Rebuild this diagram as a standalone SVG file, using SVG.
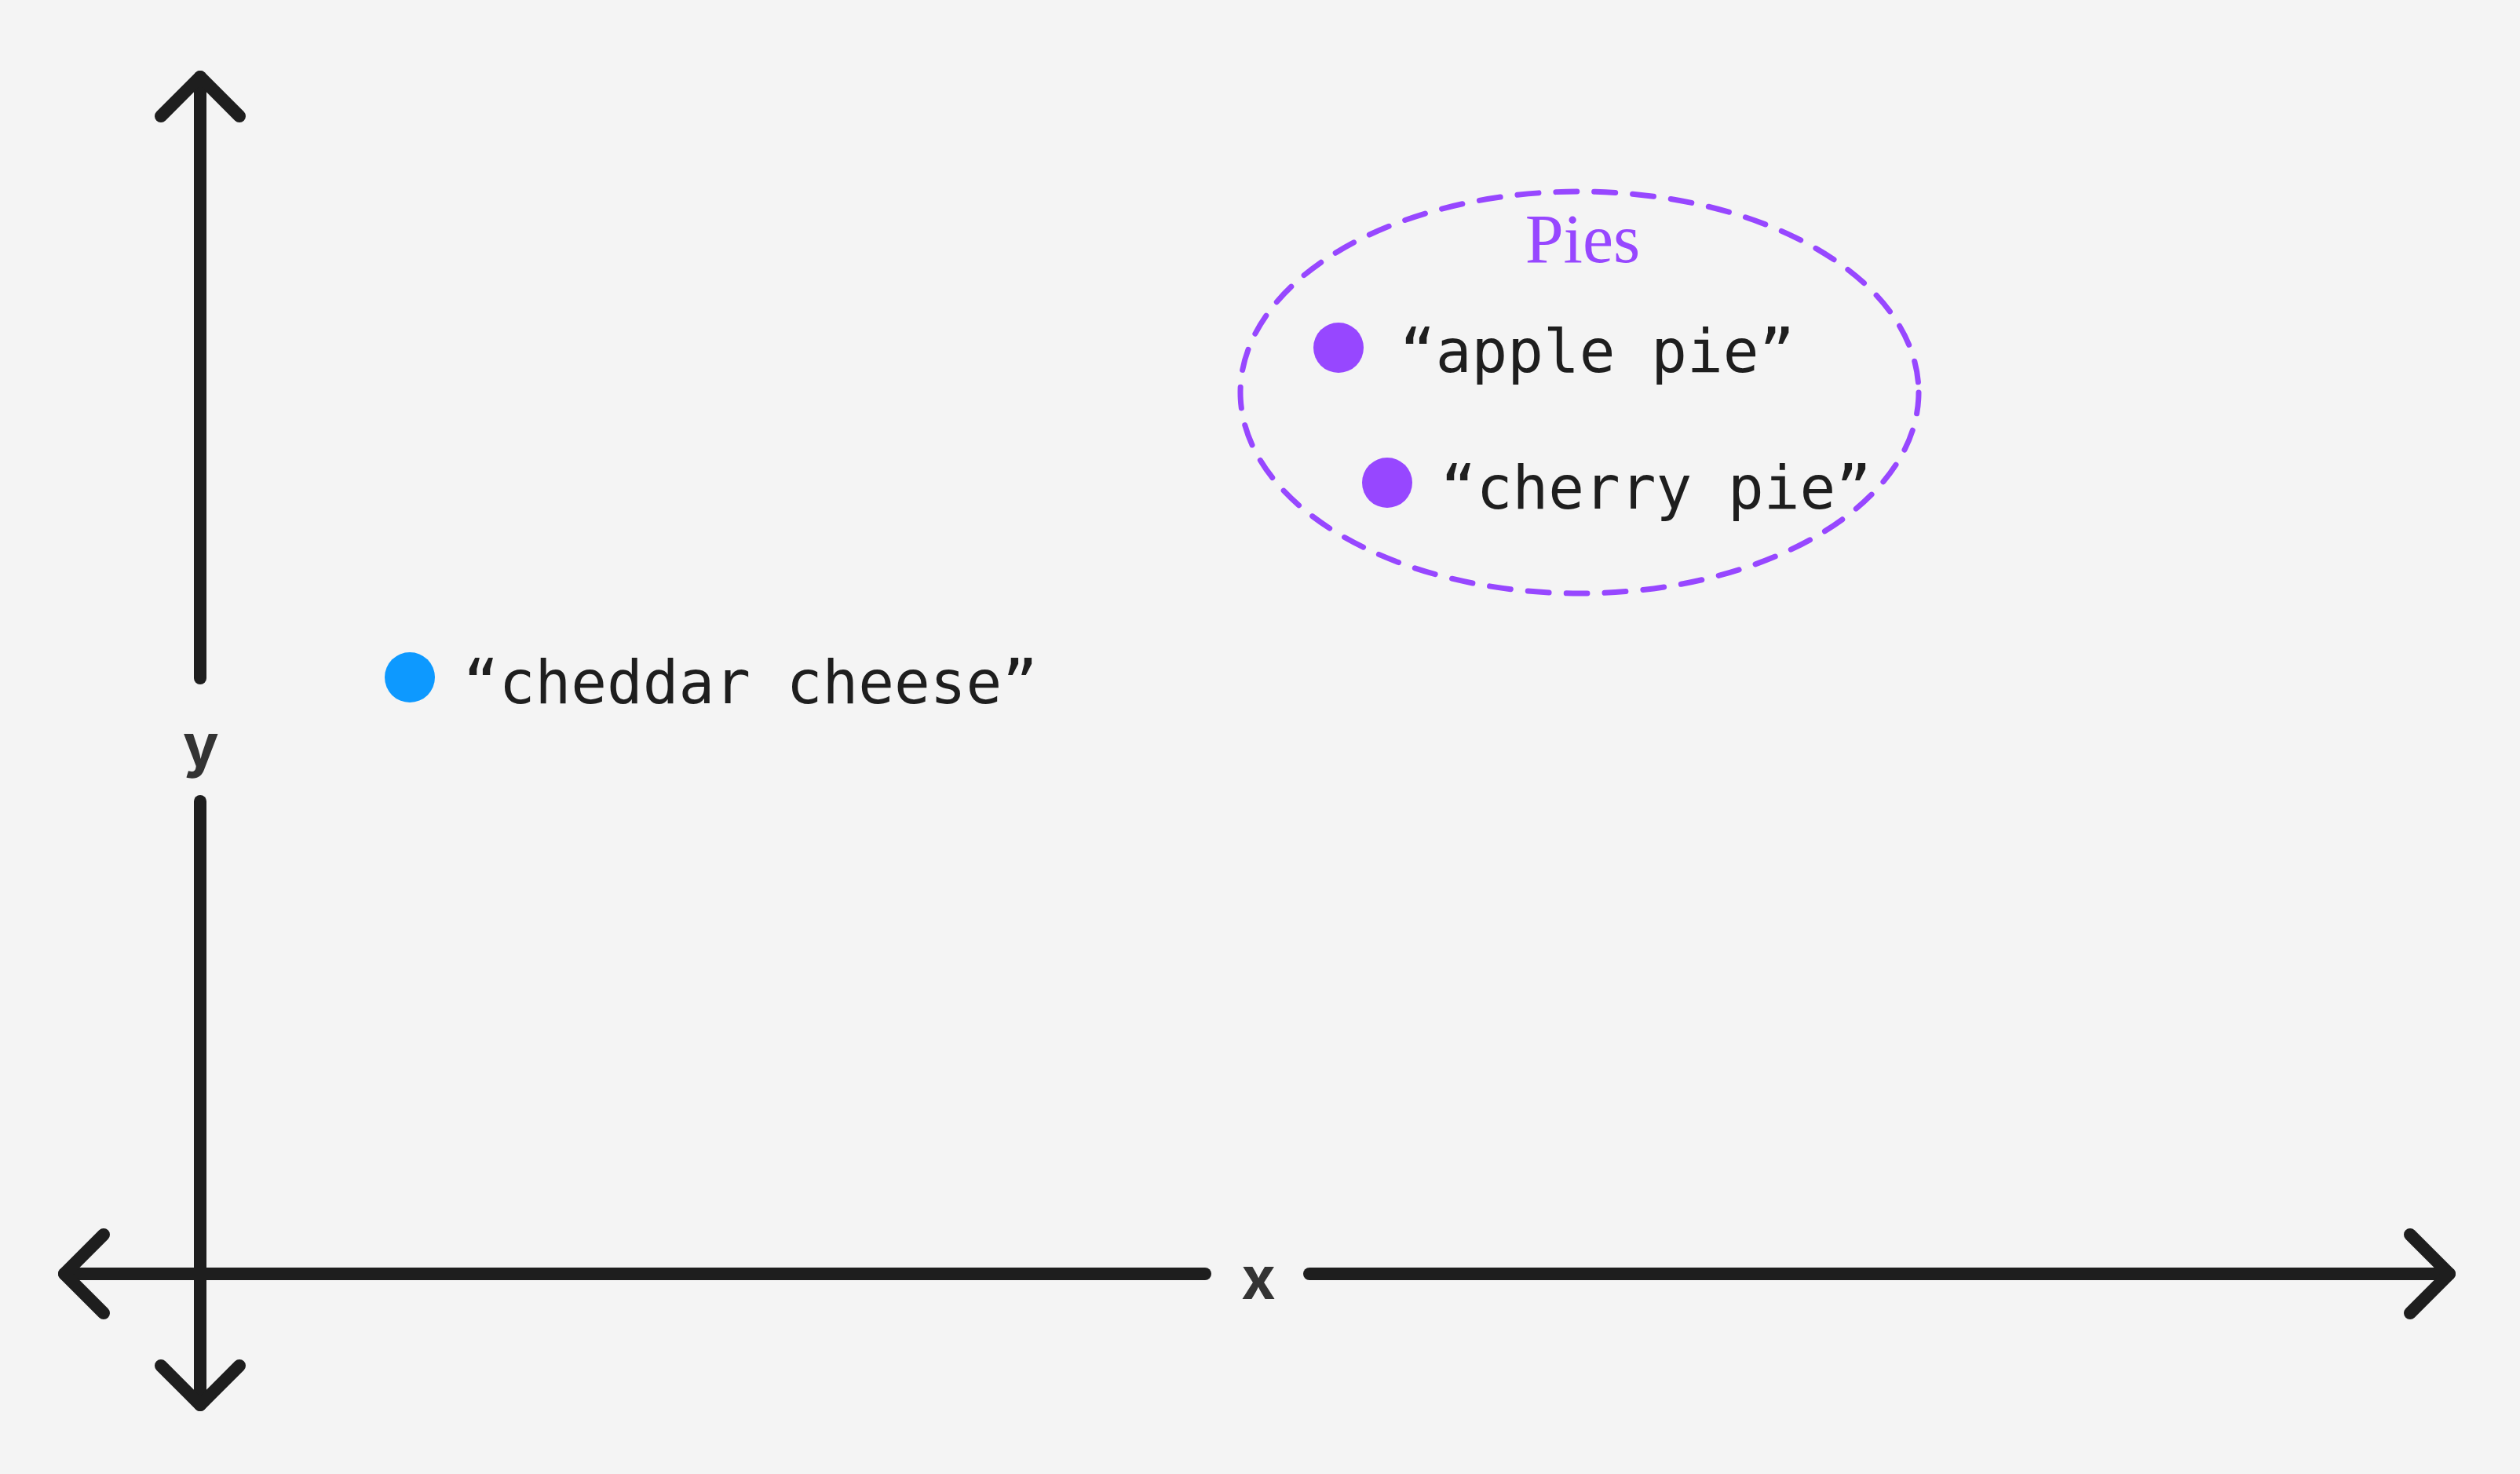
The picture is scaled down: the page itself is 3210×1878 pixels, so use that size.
<svg xmlns="http://www.w3.org/2000/svg" width="3210" height="1878" viewBox="0 0 3210 1878">
<style>
.ax{fill:none;stroke:#1e1e1e;stroke-width:16;stroke-linecap:round;stroke-linejoin:round}
.axl{font-family:Inter,"Liberation Sans",sans-serif;font-weight:700;font-size:76px;fill:#333333;text-anchor:middle}
.lbl{font-family:"DejaVu Sans Mono","Liberation Mono",monospace;font-size:76px;fill:#1e1e1e}
.pt{fill:#9747FF}
</style>
<rect width="3210" height="1878" fill="#f4f4f4"/>
<g id="connectors">
<line class="ax" x1="255" y1="98" x2="255" y2="864"/>
<line class="ax" x1="255" y1="1021" x2="255" y2="1790"/>
<line class="ax" x1="82" y1="1623" x2="1535" y2="1623"/>
<line class="ax" x1="1668" y1="1623" x2="3120" y2="1623"/>
<polyline class="ax" points="205,148 255,98 305,148"/>
<polyline class="ax" points="205,1740 255,1790 305,1740"/>
<polyline class="ax" points="132,1573 82,1623 132,1673"/>
<polyline class="ax" points="3070,1573 3120,1623 3070,1673"/>
</g>
<g id="y-label"><text class="axl" x="256" y="976">y</text></g>
<g id="x-label"><text class="axl" x="1603" y="1655">x</text></g>
<g id="pies">
<ellipse cx="2012" cy="500" rx="432" ry="256" fill="none" stroke="#9747FF" stroke-width="7" stroke-dasharray="27 22" stroke-linecap="round"/>
<text x="2016" y="334" text-anchor="middle" font-family="'Liberation Serif','DejaVu Serif',serif" font-size="88" fill="#9747FF">Pies</text>
</g>
<g id="cheddar">
<circle cx="522" cy="863" r="32" fill="#0D99FF"/>
<text class="lbl" x="590" y="896">“cheddar cheese”</text>
</g>
<g id="apple">
<circle class="pt" cx="1705" cy="443" r="32"/>
<text class="lbl" x="1783" y="474">“apple pie”</text>
</g>
<g id="cherry">
<circle class="pt" cx="1767" cy="615" r="32"/>
<text class="lbl" x="1835" y="648">“cherry pie”</text>
</g>
</svg>
